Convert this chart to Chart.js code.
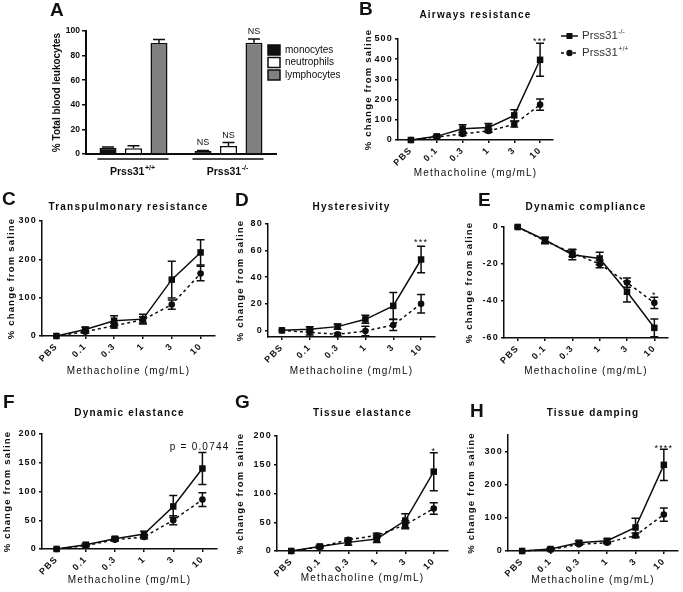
<!DOCTYPE html>
<html><head><meta charset="utf-8"><title>Prss31 lung function figure</title>
<script src="https://cdn.jsdelivr.net/npm/chart.js@4.4.1/dist/chart.umd.min.js"></script>
<style>
html,body{margin:0;padding:0;background:#fff}
#fig{position:relative;width:683px;height:592px;overflow:hidden;background:#fff;font-family:'Liberation Sans',Arial,Helvetica,sans-serif}
#fig canvas{position:absolute}
.pl{position:absolute;font-size:19px;font-weight:bold;line-height:1;color:#111}
</style></head><body>
<div id="fig">
<canvas id="cA" width="340" height="185" style="left:0px;top:0px"></canvas>
<canvas id="cB" width="353" height="180" style="left:330px;top:0px"></canvas>
<canvas id="cC" width="235" height="205" style="left:0px;top:175px"></canvas>
<canvas id="cD" width="220" height="205" style="left:235px;top:175px"></canvas>
<canvas id="cE" width="228" height="205" style="left:455px;top:175px"></canvas>
<canvas id="cF" width="235" height="202" style="left:0px;top:390px"></canvas>
<canvas id="cG" width="220" height="202" style="left:235px;top:390px"></canvas>
<canvas id="cH" width="228" height="202" style="left:455px;top:390px"></canvas>
<div class="pl" style="left:50px;top:0px">A</div>
<div class="pl" style="left:359px;top:-1px">B</div>
<div class="pl" style="left:2px;top:189px">C</div>
<div class="pl" style="left:235px;top:190px">D</div>
<div class="pl" style="left:478px;top:190px">E</div>
<div class="pl" style="left:3px;top:392px">F</div>
<div class="pl" style="left:235px;top:392px">G</div>
<div class="pl" style="left:470px;top:401px">H</div>
</div>
<script>
// ---------------- DATA ----------------
// Panel A
const genotypes = ['Prss31+/+', 'Prss31-/-'];
const cellTypes = ['monocytes', 'neutrophils', 'lymphocytes'];
const monoPct = [5.1, 2.4];
const monoErr = [0.6, 0.5];
const neutPct = [4.6, 6.5];
const neutErr = [2.2, 2.8];
const lymphPct = [90.2, 90.5];
const lymphErr = [2.8, 3.0];
const aYTicks = [0, 20, 40, 60, 80, 100];

// Panels B-H
const doses = ['PBS', '0.1', '0.3', '1', '3', '10'];
const seriesNames = ['Prss31-/-', 'Prss31+/+'];

const bKO = [0, 18, 56, 62, 122, 397];
const bKOErr = [0, 5, 19, 20, 28, 82];
const bWT = [0, 15, 30, 45, 78, 175];
const bWTErr = [0, 4, 8, 8, 14, 28];
const bYTicks = [0, 100, 200, 300, 400, 500];

const cKO = [0, 17, 40, 44, 147, 218];
const cKOErr = [0, 6, 13, 13, 48, 33];
const cWT = [0, 11, 27, 42, 82, 163];
const cWTErr = [0, 4, 6, 8, 12, 19];
const cYTicks = [0, 100, 200, 300];

const dKO = [0, 0.8, 2.8, 8.3, 18.4, 53.3];
const dKOErr = [0, 2, 2, 3, 10, 10];
const dWT = [0, -1.5, -3, -0.5, 4, 20];
const dWTErr = [0, 2, 1, 3.5, 4.2, 7];
const dYTicks = [0, 20, 40, 60, 80];

const eKO = [0, -7, -15, -17, -35, -54.5];
const eKOErr = [0, 1.5, 2.7, 3.4, 5.5, 4.8];
const eWT = [0, -7.5, -14, -20, -30, -41];
const eWTErr = [0, 1.5, 2, 2, 2.5, 3];
const eYTicks = [-60, -40, -20, 0];

const fKO = [0, 7.5, 18, 26, 74, 140];
const fKOErr = [0, 2, 3, 5, 19, 28];
const fWT = [0, 6, 16, 21, 50, 86];
const fWTErr = [0, 2, 2, 3, 8, 12];
const fYTicks = [0, 50, 100, 150, 200];

const gKO = [0, 8, 15, 21, 53, 138];
const gKOErr = [0, 2, 5, 6, 12, 33];
const gWT = [0, 7, 19.6, 27, 45.5, 74];
const gWTErr = [0, 2, 3, 4, 7, 10];
const gYTicks = [0, 50, 100, 150, 200];

const hKO = [0, 6, 25, 31, 71, 260];
const hKOErr = [0, 3, 6, 6, 28, 47];
const hWT = [0, 4, 20, 25, 47, 110];
const hWTErr = [0, 2, 3, 3, 7, 20];
const hYTicks = [0, 100, 200, 300];

// ---------------- STYLE / HELPERS ----------------
const FONT = "'Liberation Sans', Arial, Helvetica, sans-serif";
const INK = '#0d0d0d';

function supText(ctx, x, y, base, sup, size, supSize, weight, align) {
  ctx.font = weight + ' ' + size + 'px ' + FONT;
  const wb = ctx.measureText(base).width;
  ctx.font = weight + ' ' + supSize + 'px ' + FONT;
  const ws = ctx.measureText(sup).width;
  let x0 = x;
  if (align === 'center') x0 = x - (wb + ws + 0.5) / 2;
  ctx.textAlign = 'left';
  ctx.textBaseline = 'middle';
  ctx.font = weight + ' ' + size + 'px ' + FONT;
  ctx.fillText(base, x0, y);
  ctx.font = weight + ' ' + supSize + 'px ' + FONT;
  ctx.fillText(sup, x0 + wb + 0.5, y - size * 0.38);
}

const errorBarPlugin = {
  id: 'errorBars',
  afterDatasetsDraw(chart) {
    const ctx = chart.ctx, ys = chart.scales.y;
    ctx.save();
    ctx.setLineDash([]);
    ctx.strokeStyle = INK;
    ctx.lineWidth = 1.5;
    chart.data.datasets.forEach((ds, di) => {
      if (!ds.errors) return;
      const meta = chart.getDatasetMeta(di);
      meta.data.forEach((el, j) => {
        const e = ds.errors[j];
        if (!e) return;
        const v = ds.data[j];
        const x = el.x;
        const yTop = ys.getPixelForValue(v + e);
        const yBot = ds.upperOnly ? ys.getPixelForValue(v) : ys.getPixelForValue(v - e);
        const cw = ds.capHalf || 4;
        ctx.beginPath();
        ctx.moveTo(x, yBot); ctx.lineTo(x, yTop);
        ctx.moveTo(x - cw, yTop); ctx.lineTo(x + cw, yTop);
        if (!ds.upperOnly) { ctx.moveTo(x - cw, yBot); ctx.lineTo(x + cw, yBot); }
        ctx.stroke();
      });
    });
    ctx.restore();
  }
};

function spacingPlugin(px) {
  return {
    id: 'letterSpacing',
    beforeUpdate(c) { c.ctx.letterSpacing = px + 'px'; },
    beforeDraw(c) { c.ctx.letterSpacing = px + 'px'; }
  };
}

// notes: [{i, text, size, align, dx, dy}]
function notesPlugin(notes) {
  return {
    id: 'notes',
    afterDraw(chart) {
      const ctx = chart.ctx, ys = chart.scales.y;
      ctx.save();
      ctx.fillStyle = INK;
      notes.forEach(n => {
        let top = -Infinity;
        chart.data.datasets.forEach(ds => {
          top = Math.max(top, ds.data[n.i] + (ds.errors ? ds.errors[n.i] : 0));
        });
        const x = chart.getDatasetMeta(0).data[n.i].x + (n.dx || 0);
        const y = ys.getPixelForValue(top) + (n.dy || 0);
        ctx.font = (n.size || 9) + 'px ' + FONT;
        ctx.textAlign = n.align || 'center';
        ctx.textBaseline = n.baseline || 'alphabetic';
        ctx.fillText(n.text, x, y);
      });
      ctx.restore();
    }
  };
}

const legendBPlugin = {
  id: 'legendB',
  afterDraw(chart) {
    const ctx = chart.ctx, ca = chart.chartArea;
    ctx.save();
    ctx.letterSpacing = '0px';
    const rows = [ca.top - 3, ca.top + 14];
    chart.data.datasets.forEach((ds, i) => {
      const y = rows[i];
      const x0 = ca.right + 8;
      ctx.strokeStyle = INK; ctx.fillStyle = INK; ctx.lineWidth = 1.5;
      ctx.setLineDash(ds.borderDash || []);
      ctx.beginPath(); ctx.moveTo(x0, y); ctx.lineTo(x0 + 17, y); ctx.stroke();
      ctx.setLineDash([]);
      ctx.beginPath();
      if (ds.pointStyle === 'rect') { ctx.rect(x0 + 5.5, y - 3, 6, 6); }
      else { ctx.arc(x0 + 8.5, y, 3.2, 0, Math.PI * 2); }
      ctx.fill();
      ctx.fillStyle = '#333';
      supText(ctx, x0 + 21, y, ds.label.slice(0, 6), ds.label.slice(6), 11.5, 7, 'normal', 'left');
    });
    ctx.restore();
  }
};

function makeLine(id, p) {
  const tickFont = {family: FONT, size: 9, weight: 'bold'};
  const plugins = [spacingPlugin(1.2), errorBarPlugin, notesPlugin(p.notes || [])];
  if (p.legend) plugins.push(legendBPlugin);
  return new Chart(document.getElementById(id), {
    type: 'line',
    data: {
      labels: doses,
      datasets: [
        {label: seriesNames[0], data: p.ko, errors: p.koErr, borderColor: INK, backgroundColor: INK,
         pointBackgroundColor: INK, pointBorderColor: INK, borderWidth: 1.5, pointStyle: 'rect',
         pointRadius: 4.6, pointBorderWidth: 0, pointHoverRadius: 4.6, tension: 0, clip: false},
        {label: seriesNames[1], data: p.wt, errors: p.wtErr, borderColor: INK, backgroundColor: INK,
         pointBackgroundColor: INK, pointBorderColor: INK, borderWidth: 1.5, borderDash: [3, 3],
         pointStyle: 'circle', pointRadius: 3.3, pointBorderWidth: 0, pointHoverRadius: 3.3, tension: 0, clip: false}
      ]
    },
    options: {
      responsive: false, animation: false, devicePixelRatio: 1,
      layout: {padding: p.pad},
      plugins: {
        legend: {display: false}, tooltip: {enabled: false},
        title: {display: true, text: p.title, fullSize: false, color: INK,
                font: {family: FONT, size: 10, weight: 'bold'}, padding: {top: 0, bottom: p.titleGap}}
      },
      scales: {
        x: {
          type: 'category', offset: true,
          grid: {display: true, drawOnChartArea: false, drawTicks: true, tickLength: 3, color: INK, lineWidth: 1.5},
          border: {display: true, color: INK, width: 1.5},
          ticks: {autoSkip: false, minRotation: 45, maxRotation: 45, padding: 2, color: INK, font: tickFont},
          title: {display: true, text: 'Methacholine (mg/mL)', color: INK, font: {family: FONT, size: 10}, padding: 0},
          afterFit(s) { s.height = p.xh; }
        },
        y: {
          min: p.min, max: p.max,
          grid: {display: true, drawOnChartArea: false, drawTicks: true, tickLength: 3, color: INK, lineWidth: 1.5},
          border: {display: true, color: INK, width: 1.5},
          ticks: {padding: 2, color: INK, font: tickFont},
          title: {display: true, text: '% change from saline', color: INK, font: {family: FONT, size: 9.5, weight: 'bold'}, padding: 0},
          afterBuildTicks(s) { s.ticks = p.yTicks.map(v => ({value: v})); },
          afterFit(s) { s.width = p.yw; }
        }
      }
    },
    plugins: plugins
  });
}

// ---------------- PANEL A ----------------
const panelAExtras = {
  id: 'panelAExtras',
  afterDraw(chart) {
    const ctx = chart.ctx, xs = chart.scales.x, ys = chart.scales.y, ca = chart.chartArea;
    ctx.save();
    ctx.fillStyle = INK; ctx.strokeStyle = INK;
    // NS over knockout group
    ctx.font = '9px ' + FONT; ctx.textAlign = 'center'; ctx.textBaseline = 'middle';
    chart.data.datasets.forEach((ds, di) => {
      const el = chart.getDatasetMeta(di).data[1];
      const top = ys.getPixelForValue(ds.data[1] + ds.errors[1]);
      ctx.fillText('NS', el.x, top - 7.5);
    });
    // group underline and labels
    genotypes.forEach((g, i) => {
      const cx = xs.getPixelForValue(i);
      ctx.lineWidth = 1.5;
      ctx.beginPath(); ctx.moveTo(cx - 36, ca.bottom + 5); ctx.lineTo(cx + 35, ca.bottom + 5); ctx.stroke();
      supText(ctx, cx - 1, ca.bottom + 18, g.slice(0, 6), g.slice(6), 10.5, 7, 'bold', 'center');
    });
    // legend
    ctx.lineWidth = 1.5;
    chart.data.datasets.forEach((ds, i) => {
      const y = ca.top + 19 + i * 12.5;
      const x = ca.right - 8;
      ctx.fillStyle = ds.backgroundColor;
      ctx.fillRect(x, y - 5, 12, 10);
      ctx.strokeStyle = INK;
      ctx.strokeRect(x, y - 5, 12, 10);
      ctx.fillStyle = INK;
      ctx.font = '10px ' + FONT; ctx.textAlign = 'left'; ctx.textBaseline = 'middle';
      ctx.fillText(ds.label, x + 17, y);
    });
    ctx.restore();
  }
};

const aSeries = [monoPct, neutPct, lymphPct];
const aErrs = [monoErr, neutErr, lymphErr];
const aFill = ['#111111', '#ffffff', '#808080'];
new Chart(document.getElementById('cA'), {
  type: 'bar',
  data: {
    labels: genotypes,
    datasets: cellTypes.map((c, k) => ({
      label: c,
      data: aSeries[k],
      errors: aErrs[k], upperOnly: true, capHalf: 6,
      backgroundColor: aFill[k], borderColor: INK, borderWidth: 1.5,
      categoryPercentage: 0.805, barPercentage: 0.667
    }))
  },
  options: {
    responsive: false, animation: false, devicePixelRatio: 1,
    layout: {padding: {left: 51, top: 31, right: 64, bottom: 21}},
    plugins: {legend: {display: false}, tooltip: {enabled: false}},
    scales: {
      x: {
        type: 'category', offset: true,
        ticks: {display: false},
        grid: {display: false},
        border: {display: true, color: INK, width: 2},
        afterFit(s) { s.height = 10; }
      },
      y: {
        min: 0, max: 100,
        afterBuildTicks(s) { s.ticks = aYTicks.map(v => ({value: v})); },
        ticks: {padding: 2, color: INK, font: {family: FONT, size: 8.5, weight: 'bold'}},
        grid: {display: true, drawOnChartArea: false, drawTicks: true, tickLength: 4, color: INK, lineWidth: 1.5},
        border: {display: true, color: INK, width: 2},
        title: {display: true, text: '% Total blood leukocytes', color: INK, font: {family: FONT, size: 10, weight: 'bold'}, padding: 0},
        afterFit(s) { s.width = 35; }
      }
    }
  },
  plugins: [errorBarPlugin, panelAExtras]
});

// ---------------- PANELS B-H ----------------
makeLine('cB', {title: 'Airways resistance', ko: bKO, koErr: bKOErr, wt: bWT, wtErr: bWTErr,
  min: 0, max: 500, yTicks: bYTicks, pad: {left: 33, top: 9, right: 130, bottom: 1}, titleGap: 18, yw: 35, xh: 39,
  legend: true, notes: [{i: 5, text: '***', dy: 1}]});
makeLine('cC', {title: 'Transpulmonary resistance', ko: cKO, koErr: cKOErr, wt: cWT, wtErr: cWTErr,
  min: 0, max: 300, yTicks: cYTicks, pad: {left: 6, top: 26, right: 20, bottom: 3}, titleGap: 8, yw: 36, xh: 41});
makeLine('cD', {title: 'Hysteresivity', ko: dKO, koErr: dKOErr, wt: dWT, wtErr: dWTErr,
  min: -5, max: 80, yTicks: dYTicks, pad: {left: 0, top: 26, right: 20, bottom: 3}, titleGap: 11, yw: 33, xh: 40,
  notes: [{i: 5, text: '***', dy: -1}]});
makeLine('cE', {title: 'Dynamic compliance', ko: eKO, koErr: eKOErr, wt: eWT, wtErr: eWTErr,
  min: -60, max: 0, yTicks: eYTicks, pad: {left: 9, top: 26, right: 15, bottom: 3}, titleGap: 14, yw: 40, xh: 39,
  notes: [{i: 5, text: '*', dy: 1}]});
makeLine('cF', {title: 'Dynamic elastance', ko: fKO, koErr: fKOErr, wt: fWT, wtErr: fWTErr,
  min: 0, max: 200, yTicks: fYTicks, pad: {left: 2, top: 17, right: 18, bottom: 6}, titleGap: 15, yw: 40, xh: 37,
  notes: [{i: 5, text: 'p = 0.0744', size: 10, align: 'right', baseline: 'middle', dx: 27, dy: -5}]});
makeLine('cG', {title: 'Tissue elastance', ko: gKO, koErr: gKOErr, wt: gWT, wtErr: gWTErr,
  min: 0, max: 200, yTicks: gYTicks, pad: {left: 0, top: 17, right: 7, bottom: 8}, titleGap: 17, yw: 42, xh: 33,
  notes: [{i: 5, text: '*', dy: 1}]});
makeLine('cH', {title: 'Tissue damping', ko: hKO, koErr: hKOErr, wt: hWT, wtErr: hWTErr,
  min: 0, max: 350, yTicks: hYTicks, pad: {left: 11, top: 17, right: 5, bottom: 6}, titleGap: 16, yw: 42, xh: 35,
  notes: [{i: 5, text: '****', dy: 2}]});
</script>
</body></html>
